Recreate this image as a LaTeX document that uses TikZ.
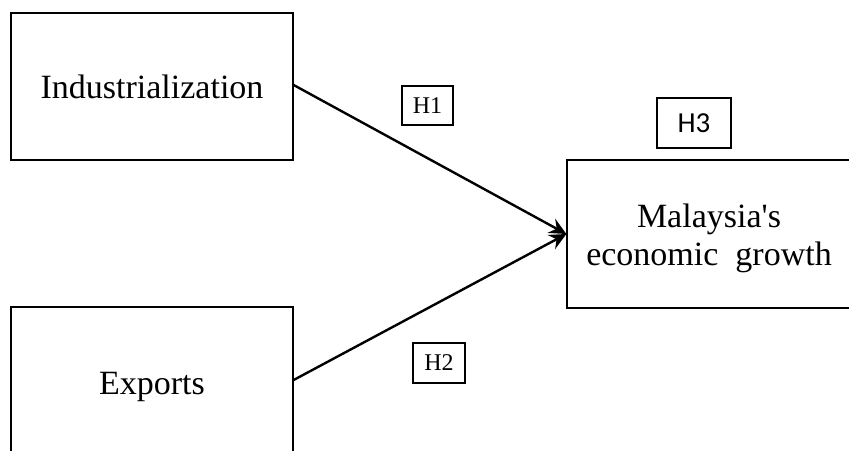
\documentclass[tikz,border=0pt]{standalone}
\usepackage{fontspec}
\setmainfont[Ligatures=TeXOff]{Liberation Serif}
\newfontfamily\hsans{Carlito}
\usetikzlibrary{arrows.meta}
\begin{document}
\begin{tikzpicture}[x=1pt,y=-1pt,
  bigbox/.style={draw, line width=1.3pt, inner sep=0pt},
  bigtext/.style={inner sep=0pt, align=center, font=\fontsize{34}{38.5}\selectfont},
  hbox/.style={draw, line width=1.1pt, inner sep=0pt},
  conn/.style={line width=2.4pt, -{Stealth[length=17pt,width=16pt,inset=6pt]}}]
\useasboundingbox (0,0) rectangle (849,450);
\clip (0,0) rectangle (849,450);
\node[bigbox, minimum width=282pt, minimum height=147pt] (ind) at (152,86.5) {};
\node[bigbox, minimum width=282pt, minimum height=147pt] (exp) at (152,380.5) {};
\node[bigbox, minimum width=284pt, minimum height=148pt] (mal) at (709,234) {};
\node[bigtext, anchor=base] (indt) at (152,98) {Industrialization};
\node[bigtext, anchor=base] (expt) at (152,394) {Exports};
\node[bigtext, anchor=base] (malt1) at (709,227) {Malaysia's};
\node[bigtext, anchor=base] (malt2) at (709,265) {economic\ \ growth};
\node[hbox, minimum width=51pt, minimum height=39pt, font=\fontsize{24}{26}\selectfont] (h1) at (427.5,105.5) {H1};
\node[hbox, minimum width=52pt, minimum height=40pt, font=\fontsize{24}{26}\selectfont] (h2) at (439,363) {H2};
\node[hbox, minimum width=74pt, minimum height=50pt, font=\hsans\fontsize{29}{32}\selectfont] (h3) at (694,123) {H3};
\draw[conn] (ind.east |- 0,85) -- (mal.west);
\draw[conn] (exp.east |- 0,380) -- (mal.west);
\end{tikzpicture}
\end{document}
